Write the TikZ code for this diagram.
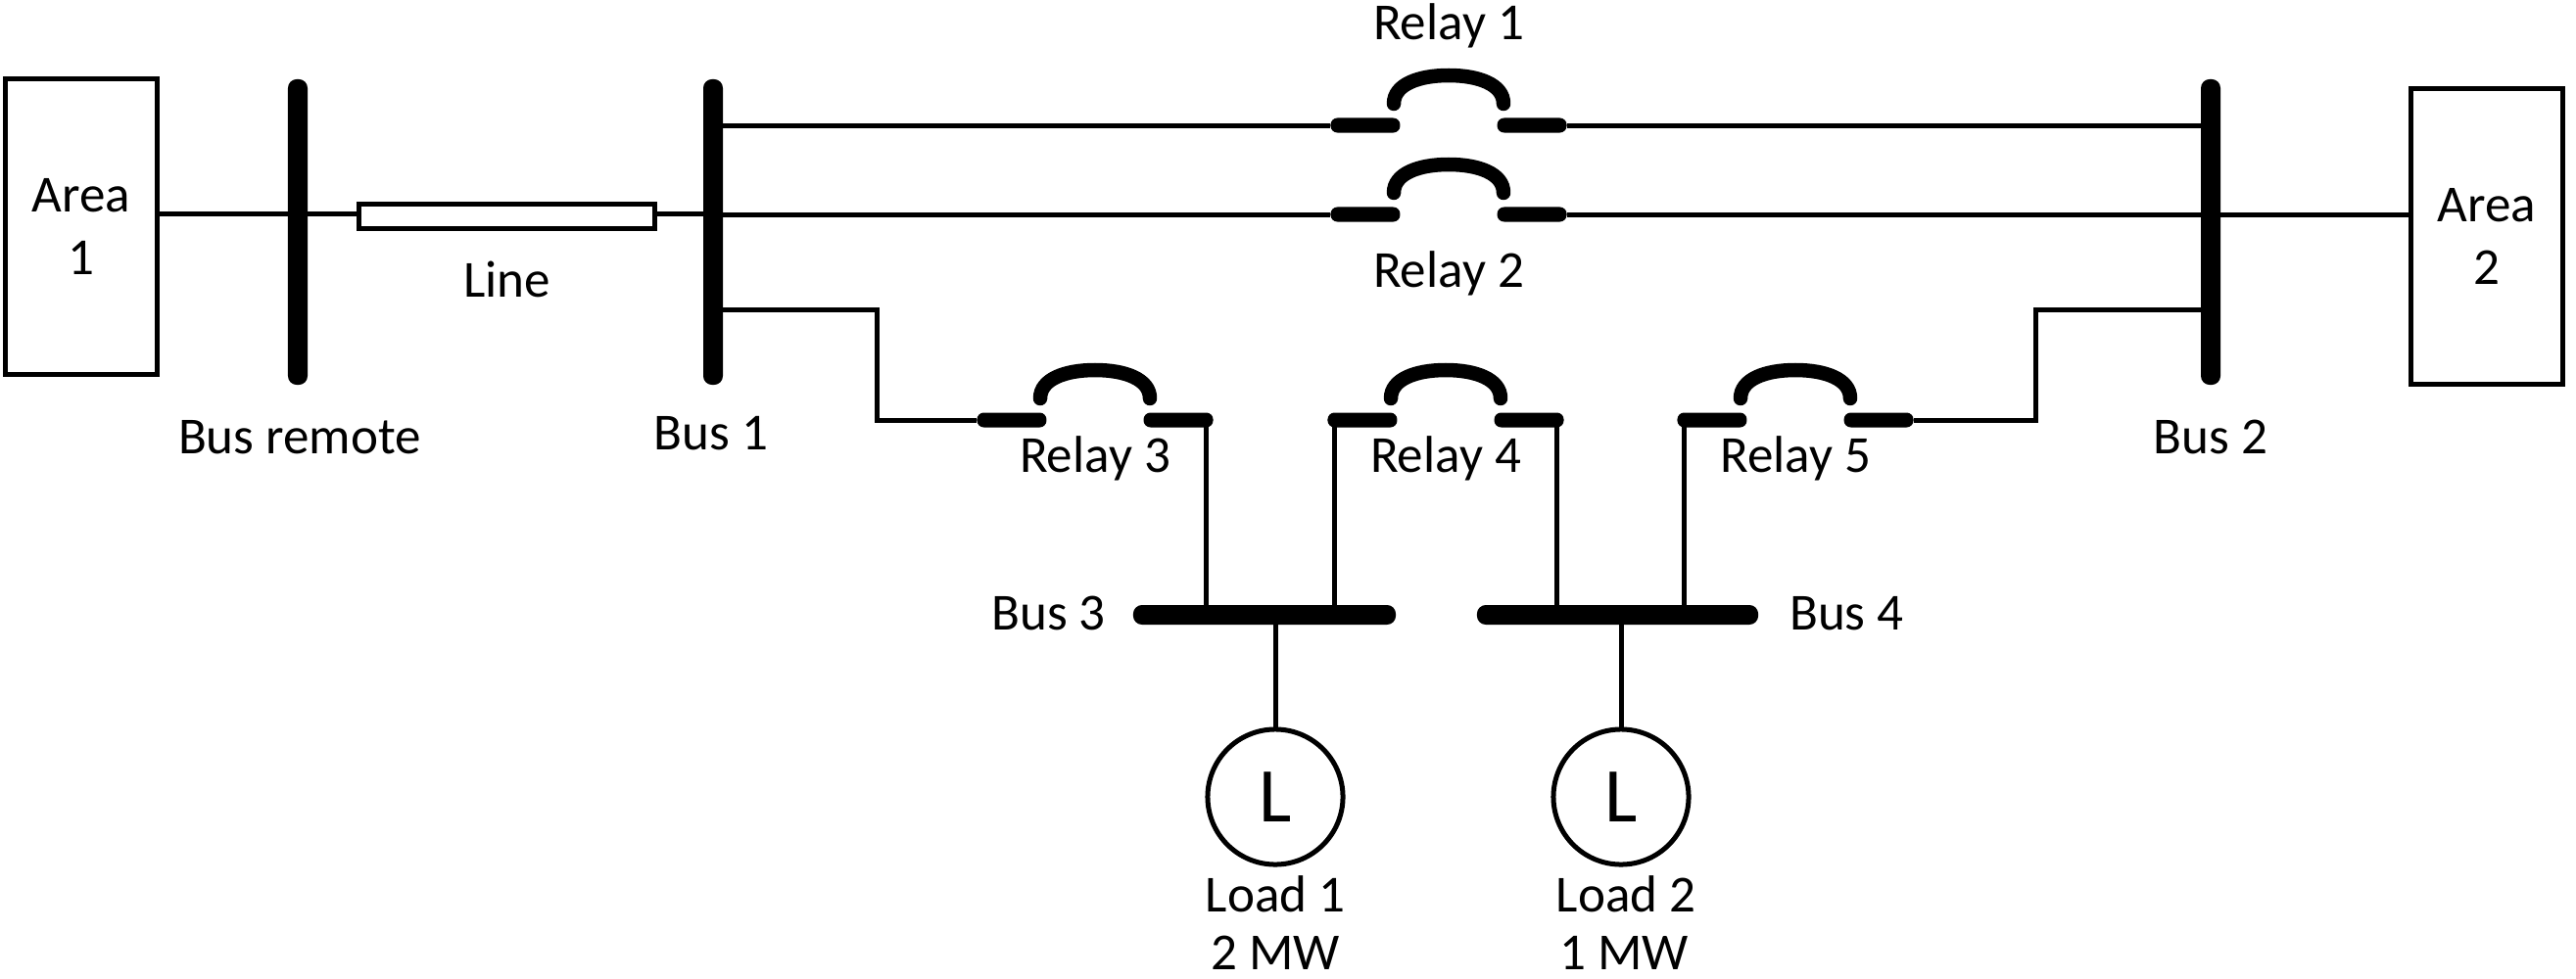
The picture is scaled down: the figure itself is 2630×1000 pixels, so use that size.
\documentclass[tikz,border=0pt]{standalone}
\usepackage{fontspec}
\setmainfont{Carlito}
\usetikzlibrary{
    positioning
}
\tikzset{%
    wire/.style={%
        line width=0.05cm,
    },
    area/.style={%
        rectangle,
        draw,
        line width=0.05cm,
        inner sep = 0pt,
        outer sep = 0pt,
        minimum width=1.54cm,
        minimum height=3.01cm,
        align=center,
        font=\fontsize{15.1}{18.1}\selectfont,
    },
    vertical bus/.style={%
        rectangle,
        fill=black,
        rounded corners=0.09cm,
        inner sep = 0pt,
        outer sep = 0pt,
        minimum width=0.2cm,
        minimum height=3.12cm,
    },
    horizontal bus/.style={%
        rectangle,
        fill=black,
        rounded corners=0.09cm,
        inner sep = 0pt,
        outer sep = 0pt,
        minimum height=0.2cm,
    },
    contact/.style={%
        rectangle,
        fill=black,
        rounded corners=0.07cm,
        inner sep = 0pt,
        outer sep = 0pt,
        minimum width=0.71cm,
        minimum height=0.15cm,
    },
    line box/.style={%
        rectangle,
        draw,
        fill=white,
        line width=0.05cm,
        inner sep = 0pt,
        outer sep = 0pt,
        minimum width=3.01cm,
        minimum height=0.24cm,
    },
    load/.style={%
        circle,
        draw,
        fill=white,
        line width=0.05cm,
        inner sep = 0pt,
        outer sep = 0pt,
        minimum width=1.38cm,
        font=\fontsize{22.5}{26}\selectfont,
    },
    tag/.style={%
        inner sep = 0pt,
        outer sep = 0pt,
        text height=0.34cm,
        text depth=0.11cm,
        font=\fontsize{15.1}{17}\selectfont,
    },
    rating/.style={%
        tag,
        text depth=0cm,
    },
    breaker arc/.pic={%
        \draw[line width=0.145cm, line cap=round] (-56,-22)
            .. controls (-56,-42) and (-30,-51) .. (0,-51)
            .. controls (30,-51) and (56,-42) .. (56,-22);
    },
}
\begin{document}
\begin{tikzpicture}[x=0.01cm, y=-0.01cm]

    \useasboundingbox (0,0) rectangle (2630,1000);

    \node[area] (area1) at (83,231.5) {Area\\1};
    \node[area] (area2) at (2539,241.5) {Area\\2};

    \node[vertical bus] (busremote) at (304,237) {};
    \node[vertical bus] (bus1) at (728,237) {};
    \node[vertical bus] (bus2) at (2257,237) {};
    \node[horizontal bus, minimum width=2.68cm] (bus3) at (1291,628) {};
    \node[horizontal bus, minimum width=2.87cm] (bus4) at (1651.5,628) {};

    \coordinate (relay1) at (1479,128);
    \coordinate (relay2) at (1479,219);
    \coordinate (relay3) at (1118,429);
    \coordinate (relay4) at (1476,429);
    \coordinate (relay5) at (1833,429);
    \coordinate (tap) at (304,218);
    \coordinate (bend3) at (895,316);
    \coordinate (bend5) at (2078,316);

    \node[contact, left=0.495cm of relay1] (relay1a) {};
    \node[contact, right=0.495cm of relay1] (relay1b) {};
    \node[contact, left=0.495cm of relay2] (relay2a) {};
    \node[contact, right=0.495cm of relay2] (relay2b) {};
    \node[contact, left=0.495cm of relay3] (relay3a) {};
    \node[contact, right=0.495cm of relay3] (relay3b) {};
    \node[contact, left=0.495cm of relay4] (relay4a) {};
    \node[contact, right=0.495cm of relay4] (relay4b) {};
    \node[contact, left=0.495cm of relay5] (relay5a) {};
    \node[contact, right=0.495cm of relay5] (relay5b) {};

    \pic at (relay1) {breaker arc};
    \pic at (relay2) {breaker arc};
    \pic at (relay3) {breaker arc};
    \pic at (relay4) {breaker arc};
    \pic at (relay5) {breaker arc};

    \node[line box] (line) at (517.5,221) {};
    \node[load] (load1) at (1302,814) {L};
    \node[load] (load2) at (1655,814) {L};

    \draw[wire] (area1.east |- tap) -- (line.west |- tap);
    \draw[wire] (line.east |- tap) -- (bus1 |- tap);
    \draw[wire] (bus1 |- relay1a) -- (relay1a);
    \draw[wire] (relay1b) -- (bus2 |- relay1b);
    \draw[wire] (bus1 |- relay2a) -- (relay2a);
    \draw[wire] (relay2b) -- (area2.west |- relay2b);
    \draw[wire] (bus1 |- bend3) -- (bend3) |- (relay3a);
    \draw[wire] (bus2 |- bend5) -- (bend5) |- (relay5b);
    \draw[wire] ([xshift=-0.07cm]relay3b.east) -- ([xshift=-0.07cm]relay3b.east |- bus3);
    \draw[wire] ([xshift=0.07cm]relay4a.west) -- ([xshift=0.07cm]relay4a.west |- bus3);
    \draw[wire] ([xshift=-0.07cm]relay4b.east) -- ([xshift=-0.07cm]relay4b.east |- bus4);
    \draw[wire] ([xshift=0.07cm]relay5a.west) -- ([xshift=0.07cm]relay5a.west |- bus4);
    \draw[wire] (bus3 -| load1) -- (load1);
    \draw[wire] (bus4 -| load2) -- (load2);

    \node[tag, above=0.76cm of relay1] (relay1tag) {Relay 1};
    \node[tag, below=0.40cm of relay2] (relay2tag) {Relay 2};
    \node[tag, below=0.19cm of relay3] (relay3tag) {Relay 3};
    \node[tag, below=0.19cm of relay4] (relay4tag) {Relay 4};
    \node[tag, below=0.19cm of relay5] (relay5tag) {Relay 5};

    \node[tag, below=0.36cm of busremote, xshift=0.02cm] (busremotetag) {Bus remote};
    \node[tag, below=0.32cm of bus1, xshift=-0.02cm] (bus1tag) {Bus 1};
    \node[tag, below=0.36cm of bus2] (bus2tag) {Bus 2};
    \node[tag, left=0.28cm of bus3, yshift=-0.04cm] (bus3tag) {Bus 3};
    \node[tag, right=0.32cm of bus4, yshift=-0.04cm] (bus4tag) {Bus 4};
    \node[tag, below=0.36cm of line] (linetag) {Line};

    \node[tag, below=0.14cm of load1] (load1tag) {Load 1};
    \node[rating, below=0.14cm of load1tag] (load1mw) {2 MW};
    \node[tag, below=0.14cm of load2, xshift=0.05cm] (load2tag) {Load 2};
    \node[rating, below=0.14cm of load2tag, xshift=-0.02cm] (load2mw) {1 MW};
\end{tikzpicture}
\end{document}
